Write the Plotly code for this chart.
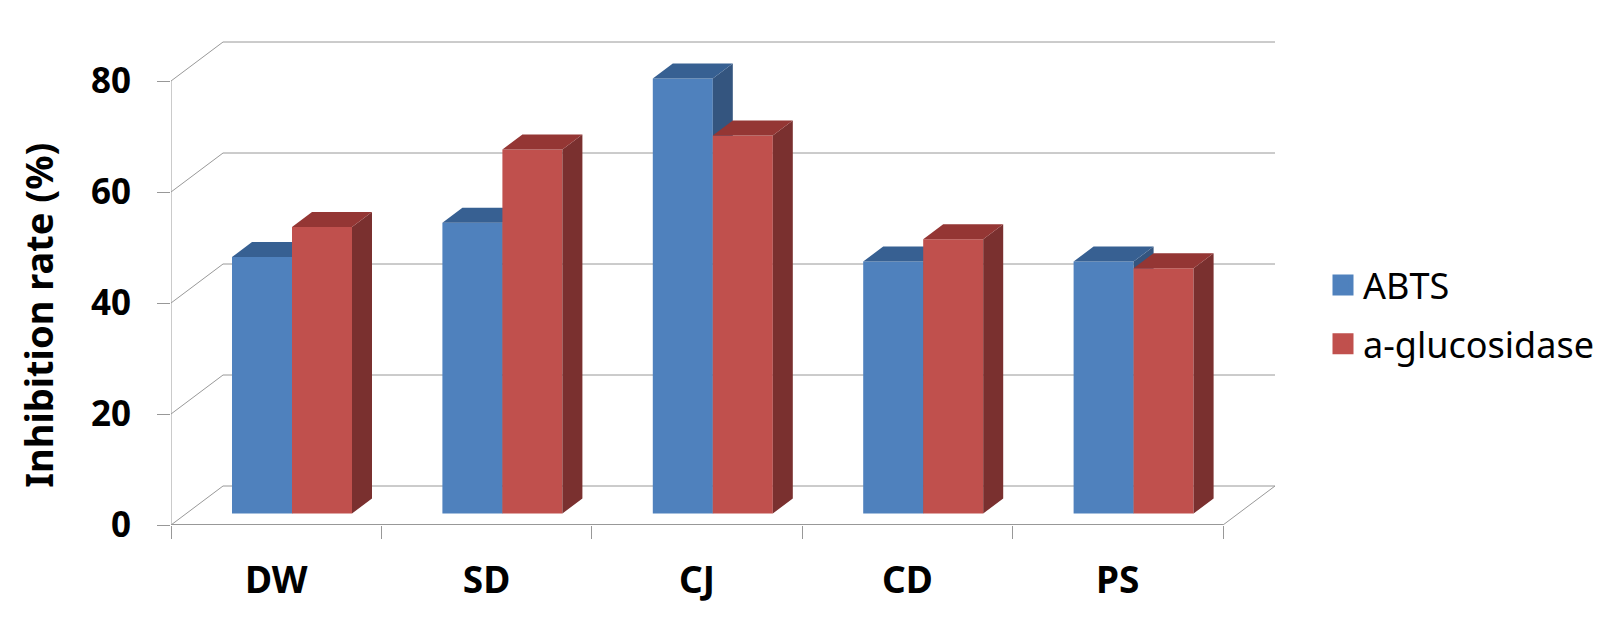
import plotly.graph_objects as go

# Values
categories = ["DW", "SD", "CJ", "CD", "PS"]
abts = [46.2, 52.4, 78.4, 45.4, 45.4]
glucosidase = [51.6, 65.6, 68.1, 49.4, 44.2]
y_ticks = [0, 20, 40, 60, 80]

BLUE = "#4F81BD"
BLUE_TOP = "#376092"
BLUE_SIDE = "#34557F"
RED = "#C0504D"
RED_TOP = "#943634"
RED_SIDE = "#7A302F"
GRID = "#989898"
FONT = "Noto Sans"

# Page body keeps its 8px default margin, so the figure is 16px smaller than the window
WIDTH = 1594
HEIGHT = 612

# Plot box in pixels, one x unit is one category
PX_X = 210.4
PX_Y = 5.55

# Fake 3D depth, pixels converted to axis units
WALL_X = 52 / PX_X
WALL_Y = 39 / PX_Y
BAR_DX = 20 / PX_X
BAR_DY = 15 / PX_Y
BAR_W = 60 / PX_X
BAR_LEFT = 61 / PX_X
BAR_BASE = 11.5 / PX_Y

n = len(categories)
x_max = n + WALL_X


def grid_line(x, y, width=1):
    return go.Scatter(
        x=x, y=y, mode="lines", line=dict(color=GRID, width=width),
        hoverinfo="skip", showlegend=False, cliponaxis=False,
    )


def bar_faces(values, slot, front, top, side, name, xa, ya):
    lefts = [i + BAR_LEFT + slot * BAR_W for i in range(n)]
    side_x, side_y, top_x, top_y = [], [], [], []
    for left, v in zip(lefts, values):
        right = left + BAR_W
        y1 = BAR_BASE + v
        side_x += [right, right + BAR_DX, right + BAR_DX, right, right, None]
        side_y += [BAR_BASE, BAR_BASE + BAR_DY, y1 + BAR_DY, y1, BAR_BASE, None]
        top_x += [left, left + BAR_DX, right + BAR_DX, right, left, None]
        top_y += [y1, y1 + BAR_DY, y1 + BAR_DY, y1, y1, None]
    return [
        go.Bar(
            x=[l + BAR_W / 2 for l in lefts], y=values, base=BAR_BASE, width=BAR_W,
            marker=dict(color=front, line=dict(width=0)), name=name,
            showlegend=False, xaxis=xa, yaxis=ya,
            customdata=categories, hovertemplate="%{customdata}: %{y}<extra>" + name + "</extra>",
        ),
        go.Scatter(x=side_x, y=side_y, mode="lines", fill="toself", fillcolor=side,
                   line=dict(width=0), hoverinfo="skip", showlegend=False, xaxis=xa, yaxis=ya),
        go.Scatter(x=top_x, y=top_y, mode="lines", fill="toself", fillcolor=top,
                   line=dict(width=0), hoverinfo="skip", showlegend=False, xaxis=xa, yaxis=ya),
    ]


def legend_entry(name, color):
    return go.Scatter(
        x=[None], y=[None], mode="markers", name=name, legendgroup=name,
        marker=dict(symbol="square", size=16, color=color, line=dict(color=color, width=5)),
    )


fig = go.Figure()

# Back wall grid and floor
for v in y_ticks[1:]:
    fig.add_trace(grid_line([0, WALL_X, x_max], [v, v + WALL_Y, v + WALL_Y]))
fig.add_trace(grid_line([0, WALL_X, x_max, n], [0, WALL_Y, WALL_Y, 0]))
fig.add_trace(grid_line([0, 0], [0, y_ticks[-1]]))
fig.add_trace(grid_line([0, n], [0, 0], width=2))

# Each series on its own overlaying axes, so blue covers the grid and red covers blue
fig.add_traces(bar_faces(abts, 0, BLUE, BLUE_TOP, BLUE_SIDE, "ABTS", "x2", "y2"))
fig.add_traces(bar_faces(glucosidase, 1, RED, RED_TOP, RED_SIDE, "a-glucosidase", "x3", "y3"))

fig.add_trace(legend_entry("ABTS", BLUE))
fig.add_trace(legend_entry("a-glucosidase", RED))

fig.add_annotation(
    text="Inhibition rate (%)", textangle=-90, showarrow=False,
    xref="paper", yref="paper", x=-0.12, y=0.428, xanchor="center", yanchor="middle",
    font=dict(size=38, family=FONT, weight="bold"),
)

fig.update_layout(
    width=WIDTH,
    height=HEIGHT,
    autosize=False,
    margin=dict(l=163, r=327, t=27, b=95, autoexpand=False),
    paper_bgcolor="white",
    plot_bgcolor="white",
    barmode="overlay",
    font=dict(family=FONT, color="black"),
    legend=dict(
        x=1315 / WIDTH, xref="container", xanchor="left",
        y=1 - 247 / HEIGHT, yref="container", yanchor="top",
        font=dict(size=36, family=FONT), tracegroupgap=9,
        bgcolor="rgba(0,0,0,0)",
    ),
    xaxis=dict(
        range=[0, x_max], tickvals=[i + 0.5 for i in range(n)], ticktext=categories,
        ticks="", showgrid=False, zeroline=False, showline=False, automargin=False,
        tickfont=dict(size=37, family=FONT, weight="bold"), ticklabelstandoff=30,
        minor=dict(tickvals=list(range(n + 1)), ticks="outside", ticklen=13,
                   tickcolor=GRID, tickwidth=1, showgrid=False),
    ),
    yaxis=dict(
        range=[0, 490 / PX_Y], tickvals=y_ticks, ticks="outside", ticklen=13,
        tickcolor=GRID, tickwidth=1, showgrid=False, zeroline=False, showline=False,
        automargin=False,
        tickfont=dict(size=35, family=FONT, weight="bold"), ticklabelstandoff=19,
    ),
    xaxis2=dict(overlaying="x", matches="x", visible=False),
    yaxis2=dict(overlaying="y", matches="y", visible=False),
    xaxis3=dict(overlaying="x", matches="x", visible=False),
    yaxis3=dict(overlaying="y", matches="y", visible=False),
)

fig.write_html("out.html")
